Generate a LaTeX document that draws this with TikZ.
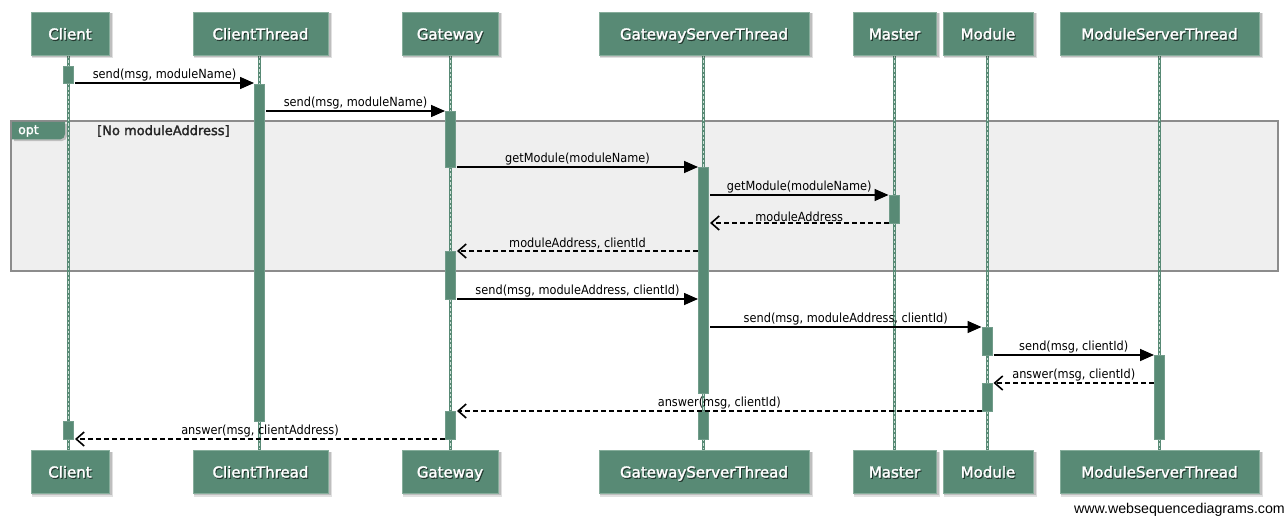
\documentclass[tikz,border=0pt]{standalone}
\usepackage{fontspec}
\setmainfont{DejaVu Sans}
\newfontfamily\wmfont{Liberation Sans}
\newfontfamily\headfont[FakeBold=2]{DejaVu Sans}
\newfontfamily\msgfont[FakeStretch=0.9]{DejaVu Sans}
\usetikzlibrary{arrows.meta}
\definecolor{wsdgreen}{HTML}{588A75}
\definecolor{wsdedge}{HTML}{86AD9B}
\definecolor{optfill}{HTML}{EFEFEF}
\definecolor{optedge}{HTML}{8C8C8C}
\definecolor{lifedash}{HTML}{CFE2D9}
\newcommand\wsdhead[5]{%
  \fill[black,opacity=0.12] (#2-#4/2+1,#3-20) rectangle (#2+#4/2+4,#3+25);
  \fill[black,opacity=0.15] (#2-#4/2+1,#3-20) rectangle (#2+#4/2+2.5,#3+23.5);
  \node[headbox,minimum width=#4pt] (#1) at (#2,#3) {};
  \node[headtxt,text=black,opacity=0.5] at (#2+1,#3+7.2) {#5};
  \node[headtxt] at (#2,#3+6) {#5};}
\newcommand\actbox[3]{\draw[actbar] (#1-5,#2) rectangle (#1+5,#3);}
\begin{document}
\begin{tikzpicture}[x=1pt,y=-1pt,
  headbox/.style={draw=wsdedge,line width=0.8pt,fill=wsdgreen,minimum height=43pt,inner sep=0pt},
  headtxt/.style={text=white,font=\headfont\fontsize{15}{17}\selectfont,inner sep=0pt,anchor=base},
  lifeline/.style={wsdgreen,line width=3pt},
  lifedots/.style={lifedash,line width=0.9pt,dash pattern=on 2.5pt off 2pt},
  actbar/.style={fill=wsdgreen,draw=wsdgreen!85!white,line width=0.5pt},
  call/.style={draw=black,line width=1.6pt,-{Triangle[length=14pt,width=12pt]}},
  reply/.style={draw=black,line width=1.6pt,dash pattern=on 5pt off 3pt,-{Straight Barb[length=8pt,width=14pt]}},
  msglabel/.style={font=\msgfont\fontsize{12.6}{14}\selectfont,inner sep=1pt,anchor=south}]
\useasboundingbox (0,0) rectangle (1287,516);
\fill[white] (0,0) rectangle (1287,516);

% opt fragment
\node[draw=optedge,fill=optfill,line width=2pt,minimum width=1267pt,minimum height=150pt,inner sep=0pt] (opt) at (644.5,196) {};
\fill[black,opacity=0.2] (14,124) -- (67,124) -- (67,136) to[out=-90,in=0] (62,141) -- (14,141) -- cycle;
\fill[wsdgreen] (12,122) -- (65,122) -- (65,134) to[out=-90,in=0] (60,139.5) -- (12,139.5) -- cycle;
\node[text=white,font=\headfont\fontsize{12.5}{14}\selectfont,anchor=west,inner sep=0pt] (optlbl) at (18,131) {opt};
\node[text=black!85,font=\headfont\fontsize{13}{14}\selectfont,anchor=west,inner sep=0pt] (guard) at (97,131) {[No moduleAddress]};

% lifelines
\foreach \x in {68.5,259.5,450.5,703.5,894,987,1159.5}{
  \draw[lifeline] (\x,55) -- (\x,450);
  \draw[lifedots] (\x,56) -- (\x,449);
}

% activation bars
\actbox{68.5}{66}{83}
\actbox{68.5}{421.5}{439}
\actbox{259.5}{84}{421}
\actbox{450.5}{111.5}{167}
\actbox{450.5}{251.5}{299}
\actbox{450.5}{411.5}{439}
\actbox{703.5}{167.5}{393}
\actbox{703.5}{411.5}{439}
\actbox{894}{195.5}{223}
\actbox{987}{327.5}{355}
\actbox{987}{383.5}{411}
\actbox{1159.5}{355.5}{439}

% message endpoints
\coordinate (m1a) at (75,83);    \coordinate (m1b) at (254,83);
\coordinate (m2a) at (266,111);  \coordinate (m2b) at (445,111);
\coordinate (m3a) at (457,167);  \coordinate (m3b) at (698,167);
\coordinate (m4a) at (710,195);  \coordinate (m4b) at (888.5,195);
\coordinate (m5a) at (888.5,223);\coordinate (m5b) at (710,223);
\coordinate (m6a) at (698,251);  \coordinate (m6b) at (457,251);
\coordinate (m7a) at (457,299);  \coordinate (m7b) at (698,299);
\coordinate (m8a) at (710,327);  \coordinate (m8b) at (981.5,327);
\coordinate (m9a) at (993.5,355);\coordinate (m9b) at (1154,355);
\coordinate (m10a) at (1154,383);\coordinate (m10b) at (993.5,383);
\coordinate (m11a) at (981.5,411);\coordinate (m11b) at (457,411);
\coordinate (m12a) at (445,439); \coordinate (m12b) at (75,439);

\draw[call] (m1a) -- node[msglabel] {send(msg, moduleName)} (m1b);
\draw[call] (m2a) -- node[msglabel] {send(msg, moduleName)} (m2b);
\draw[call] (m3a) -- node[msglabel] {getModule(moduleName)} (m3b);
\draw[call] (m4a) -- node[msglabel] {getModule(moduleName)} (m4b);
\draw[reply] (m5a) -- node[msglabel] {moduleAddress} (m5b);
\draw[reply] (m6a) -- node[msglabel] {moduleAddress, clientId} (m6b);
\draw[call] (m7a) -- node[msglabel] {send(msg, moduleAddress, clientId)} (m7b);
\draw[call] (m8a) -- node[msglabel] {send(msg, moduleAddress, clientId)} (m8b);
\draw[call] (m9a) -- node[msglabel] {send(msg, clientId)} (m9b);
\draw[reply] (m10a) -- node[msglabel] {answer(msg, clientId)} (m10b);
\draw[reply] (m11a) -- node[msglabel] {answer(msg, clientId)} (m11b);
\draw[reply] (m12a) -- node[msglabel] {answer(msg, clientAddress)} (m12b);

% participant heads
\wsdhead{tClient}{70}{33.5}{78}{Client}
\wsdhead{tClientThread}{260.5}{33.5}{135}{ClientThread}
\wsdhead{tGateway}{450}{33.5}{96}{Gateway}
\wsdhead{tGST}{704}{33.5}{210}{GatewayServerThread}
\wsdhead{tMaster}{894.5}{33.5}{83}{Master}
\wsdhead{tModule}{988}{33.5}{90}{Module}
\wsdhead{tMST}{1159.5}{33.5}{199}{ModuleServerThread}

\wsdhead{bClient}{70}{471.5}{78}{Client}
\wsdhead{bClientThread}{260.5}{471.5}{135}{ClientThread}
\wsdhead{bGateway}{450}{471.5}{96}{Gateway}
\wsdhead{bGST}{704}{471.5}{210}{GatewayServerThread}
\wsdhead{bMaster}{894.5}{471.5}{83}{Master}
\wsdhead{bModule}{988}{471.5}{90}{Module}
\wsdhead{bMST}{1159.5}{471.5}{199}{ModuleServerThread}

\node[font=\wmfont\fontsize{14.2}{16}\selectfont,anchor=base east,inner sep=0pt] (wm) at (1285,513.5) {www.websequencediagrams.com};
\end{tikzpicture}
\end{document}
